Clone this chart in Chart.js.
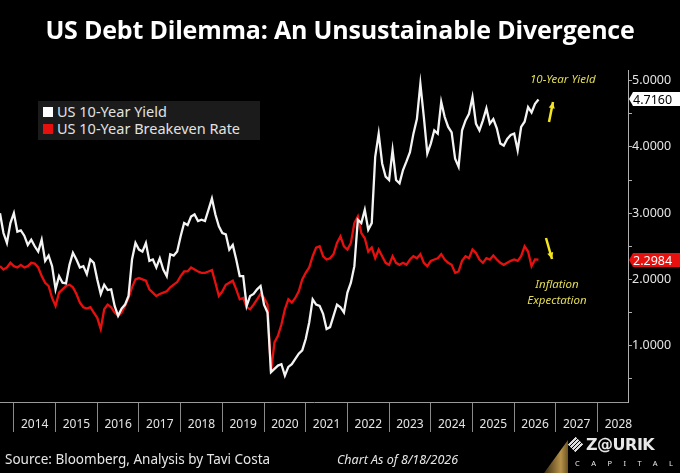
<!DOCTYPE html>
<html>
<head>
<meta charset="utf-8">
<script src="https://cdn.jsdelivr.net/npm/chart.js@4.4.1/dist/chart.umd.min.js"></script>
<style>
	html, body { margin: 0; padding: 0; background: #000; }
	body { width: 680px; height: 473px; position: relative; overflow: hidden; font-family: "Noto Sans", sans-serif; }
	#wrap { position: absolute; left: 0; top: 0; width: 680px; height: 473px; }
	#title { position: absolute; left: 0; top: 12px; width: 680px; text-align: center; color: #fff; font: 700 25px "Open Sans", sans-serif; letter-spacing: -0.2px; }
	#legend { position: absolute; left: 38px; top: 101px; width: 222px; height: 39px; background: #1b1b1b; color: #e2e2e2; font-size: 14.5px; line-height: 17px; padding-top: 2px; box-sizing: border-box; }
	#legend div { padding-left: 5px; white-space: nowrap; }
	#legend span { display: inline-block; width: 10px; height: 10px; margin-right: 4px; }
	.note { position: absolute; color: #e3dc55; font-style: italic; font-size: 11.5px; text-align: center; }
	#source { position: absolute; left: 5px; top: 450px; color: #e6e6e6; font-size: 13.5px; }
	#asof { position: absolute; left: 337px; top: 451px; color: #e6e6e6; font-size: 12.5px; font-style: italic; }
	#logo { position: absolute; left: 542px; top: 434px; width: 138px; height: 39px; }
	#beam { position: absolute; left: 2px; top: 6px; width: 24px; height: 33px; background: linear-gradient(90deg, #3a2c10, #b8924a 70%, #6b5520); clip-path: polygon(100% 0, 0 100%, 100% 100%); }
	#mark { position: absolute; left: 28px; top: 5px; width: 11px; height: 11px; transform: rotate(45deg); background: repeating-linear-gradient(90deg, #ddd 0 2px, #000 2px 3px); }
	#brand { position: absolute; left: 44px; top: 1px; color: #e8e8e8; font: 700 16px "DejaVu Sans", sans-serif; letter-spacing: -0.5px; }
	#capital { position: absolute; left: 33px; top: 24px; color: #e8e8e8; font-size: 7.5px; letter-spacing: 11.5px; }
</style>
</head>
<body>
<div id="wrap"><canvas id="chart"></canvas></div>
<div id="title">US Debt Dilemma: An Unsustainable Divergence</div>
<div id="legend">
	<div><span style="background:#ffffff"></span>US 10-Year Yield</div>
	<div><span style="background:#e8100f"></span>US 10-Year Breakeven Rate</div>
</div>
<div class="note" style="left:530px; top:71px;">10-Year Yield</div>
<div class="note" style="left:522px; top:276px; width:70px; line-height:16px;">Inflation<br>Expectation</div>
<div id="source">Source: Bloomberg, Analysis by Tavi Costa</div>
<div id="asof">Chart As of 8/18/2026</div>
<div id="logo">
	<div id="beam"></div>
	<div id="mark"></div>
	<div id="brand">Z@URIK</div>
	<div id="capital">CAPITAL</div>
</div>
<script>
// monthly closes, first value is Sep 2013
const startYear = 2013;
const startMonth = 9;

const yieldValues = [
	3.00, 2.70, 2.55, 2.85,
	3.00, 2.72, 2.74, 2.66, 2.52, 2.60, 2.50, 2.42, 2.60, 2.28, 2.36, 2.20,
	1.85, 2.05, 1.95, 1.94, 2.22, 2.40, 2.30, 2.18, 2.20, 2.08, 2.30, 2.25,
	2.00, 1.78, 1.92, 1.84, 1.85, 1.60, 1.45, 1.56, 1.62, 1.75, 2.30, 2.55,
	2.45, 2.42, 2.55, 2.28, 2.30, 2.18, 2.32, 2.15, 2.05, 2.38, 2.36, 2.42,
	2.65, 2.85, 2.82, 2.95, 2.98, 2.88, 2.90, 2.88, 3.05, 3.22, 2.98, 2.80,
	2.70, 2.68, 2.45, 2.52, 2.30, 2.05, 2.05, 1.60, 1.75, 1.78, 1.85, 1.90,
	1.62, 1.50, 0.60, 0.65, 0.70, 0.72, 0.55, 0.68, 0.72, 0.80, 0.88, 0.93,
	1.10, 1.35, 1.70, 1.62, 1.60, 1.48, 1.25, 1.28, 1.45, 1.62, 1.58, 1.50,
	1.80, 1.95, 2.20, 2.90, 2.85, 3.05, 2.75, 2.85, 3.85, 4.20, 3.75, 3.55,
	3.50, 3.95, 3.50, 3.45, 3.65, 3.78, 3.92, 4.20, 4.42, 4.95, 4.45, 3.90,
	4.05, 4.25, 4.20, 4.68, 4.45, 4.30, 4.22, 3.82, 3.70, 4.25, 4.40, 4.50,
	4.75, 4.35, 4.25, 4.40, 4.58, 4.35, 4.42, 4.28, 4.05, 4.02, 4.12, 4.18,
	4.20, 3.95, 4.30, 4.38, 4.60, 4.52, 4.65, 4.716,
];

const breakevenValues = [
	2.20, 2.15, 2.18, 2.25,
	2.20, 2.18, 2.22, 2.18, 2.20, 2.25, 2.24, 2.18, 2.05, 1.95, 1.90, 1.72,
	1.60, 1.80, 1.85, 1.90, 1.92, 1.88, 1.78, 1.65, 1.58, 1.56, 1.58, 1.50,
	1.42, 1.25, 1.55, 1.62, 1.58, 1.50, 1.45, 1.50, 1.60, 1.72, 1.88, 2.00,
	2.02, 2.00, 1.98, 1.85, 1.80, 1.75, 1.78, 1.80, 1.82, 1.88, 1.92, 1.96,
	2.05, 2.12, 2.12, 2.18, 2.15, 2.12, 2.10, 2.10, 2.12, 2.14, 1.95, 1.75,
	1.82, 1.92, 1.95, 1.98, 1.85, 1.70, 1.72, 1.58, 1.55, 1.62, 1.70, 1.78,
	1.72, 1.62, 0.60, 1.05, 1.15, 1.32, 1.55, 1.70, 1.65, 1.72, 1.82, 2.00,
	2.10, 2.18, 2.35, 2.48, 2.50, 2.35, 2.30, 2.32, 2.38, 2.55, 2.65, 2.50,
	2.45, 2.55, 2.85, 2.95, 2.70, 2.62, 2.42, 2.48, 2.32, 2.45, 2.35, 2.25,
	2.22, 2.35, 2.25, 2.22, 2.25, 2.22, 2.30, 2.35, 2.32, 2.38, 2.25, 2.20,
	2.28, 2.30, 2.32, 2.38, 2.30, 2.25, 2.22, 2.10, 2.12, 2.28, 2.35, 2.32,
	2.45, 2.40, 2.30, 2.25, 2.32, 2.30, 2.36, 2.30, 2.25, 2.22, 2.25, 2.28,
	2.30, 2.28, 2.35, 2.50, 2.42, 2.20, 2.30, 2.2984,
];

const yearLabels = [2014, 2015, 2016, 2017, 2018, 2019, 2020, 2021, 2022, 2023, 2024, 2025, 2026, 2027, 2028];
const yTicks = [1, 2, 3, 4, 5];

const xMin = 2013.667;
const xMax = 2028.73;
const yMin = 0.15;
const yMax = 5.16;

function toPoints(values) {
	return values.map((v, i) => ({ x: startYear + (startMonth - 1 + i) / 12, y: v }));
}

// price tags on the right axis, like the terminal shows
const tagPlugin = {
	id: "tags",
	afterDraw(chart) {
		const ctx = chart.ctx;
		const yScale = chart.scales.y;
		const right = chart.chartArea.right;
		chart.data.datasets.forEach((ds) => {
			const last = ds.data[ds.data.length - 1].y;
			const y = Math.round(yScale.getPixelForValue(last));
			ctx.save();
			ctx.fillStyle = ds.tagColor;
			ctx.beginPath();
			ctx.moveTo(right + 1, y);
			ctx.lineTo(right + 5, y - 7);
			ctx.lineTo(680, y - 7);
			ctx.lineTo(680, y + 7);
			ctx.lineTo(right + 5, y + 7);
			ctx.closePath();
			ctx.fill();
			ctx.fillStyle = ds.tagText;
			ctx.font = '12.5px "Noto Sans"';
			ctx.textBaseline = "middle";
			ctx.fillText(last.toFixed(4), right + 5, y + 1);
			ctx.restore();
		});
	},
};

function arrow(ctx, x1, y1, x2, y2) {
	const a = Math.atan2(y2 - y1, x2 - x1);
	ctx.beginPath();
	ctx.moveTo(x1, y1);
	ctx.lineTo(x2, y2);
	ctx.stroke();
	ctx.beginPath();
	ctx.moveTo(x2, y2);
	ctx.lineTo(x2 - 7 * Math.cos(a - 0.45), y2 - 7 * Math.sin(a - 0.45));
	ctx.lineTo(x2 - 7 * Math.cos(a + 0.45), y2 - 7 * Math.sin(a + 0.45));
	ctx.closePath();
	ctx.fill();
}

const arrowPlugin = {
	id: "arrows",
	afterDraw(chart) {
		const ctx = chart.ctx;
		ctx.save();
		ctx.strokeStyle = "#f3e521";
		ctx.fillStyle = "#f3e521";
		ctx.lineWidth = 2.5;
		arrow(ctx, 549, 122, 553, 102);
		arrow(ctx, 546, 238, 552, 259);
		ctx.restore();
	},
};

const chart = new Chart(document.getElementById("chart"), {
	type: "line",
	data: {
		datasets: [
			{
				label: "US 10-Year Yield",
				data: toPoints(yieldValues),
				borderColor: "#f4f4f4",
				borderWidth: 2.3,
				pointRadius: 0,
				tension: 0,
				tagColor: "#ffffff",
				tagText: "#000000",
			},
			{
				label: "US 10-Year Breakeven Rate",
				data: toPoints(breakevenValues),
				borderColor: "#e8100f",
				borderWidth: 2.3,
				pointRadius: 0,
				tension: 0,
				tagColor: "#e8100f",
				tagText: "#ffffff",
			},
		],
	},
	options: {
		responsive: true,
		maintainAspectRatio: false,
		animation: false,
		layout: { padding: { top: 70, left: 0, right: 0, bottom: 0 } },
		plugins: {
			legend: { display: false },
			tooltip: { enabled: false },
		},
		scales: {
			x: {
				type: "linear",
				min: xMin,
				max: xMax,
				afterBuildTicks: (scale) => {
					const ticks = [];
					yearLabels.forEach((yr) => {
						ticks.push({ value: yr });
						ticks.push({ value: yr + 0.5 });
					});
					scale.ticks = ticks;
				},
				afterFit: (scale) => {
					scale.height = 71;
				},
				border: { display: true, color: "#9a9a9a", width: 1 },
				grid: {
					drawOnChartArea: false,
					drawTicks: true,
					tickLength: 30,
					tickWidth: 1,
					tickColor: (c) => (Number.isInteger(c.tick.value) ? "#8a8a8a" : "rgba(0,0,0,0)"),
				},
				ticks: {
					autoSkip: false,
					maxRotation: 0,
					padding: -15,
					color: "#e4e4e4",
					font: { family: "Noto Sans", size: 12 },
					callback: (v) => (Number.isInteger(v) ? "" : String(Math.floor(v))),
				},
			},
			y: {
				position: "right",
				min: yMin,
				max: yMax,
				afterBuildTicks: (scale) => {
					const ticks = [];
					yTicks.forEach((t) => {
						ticks.push({ value: t - 0.5 });
						ticks.push({ value: t });
					});
					scale.ticks = ticks;
				},
				afterFit: (scale) => {
					scale.width = 52;
				},
				border: { display: true, color: "#b0b0b0", width: 1 },
				grid: {
					drawOnChartArea: false,
					drawTicks: true,
					tickLength: 4,
					tickColor: "#b0b0b0",
				},
				ticks: {
					padding: 0,
					color: "#e4e4e4",
					font: { family: "Noto Sans", size: 12.5 },
					callback: (v) => (Number.isInteger(v) ? v.toFixed(4) : ""),
				},
			},
		},
	},
	plugins: [tagPlugin, arrowPlugin],
});
</script>
</body>
</html>
